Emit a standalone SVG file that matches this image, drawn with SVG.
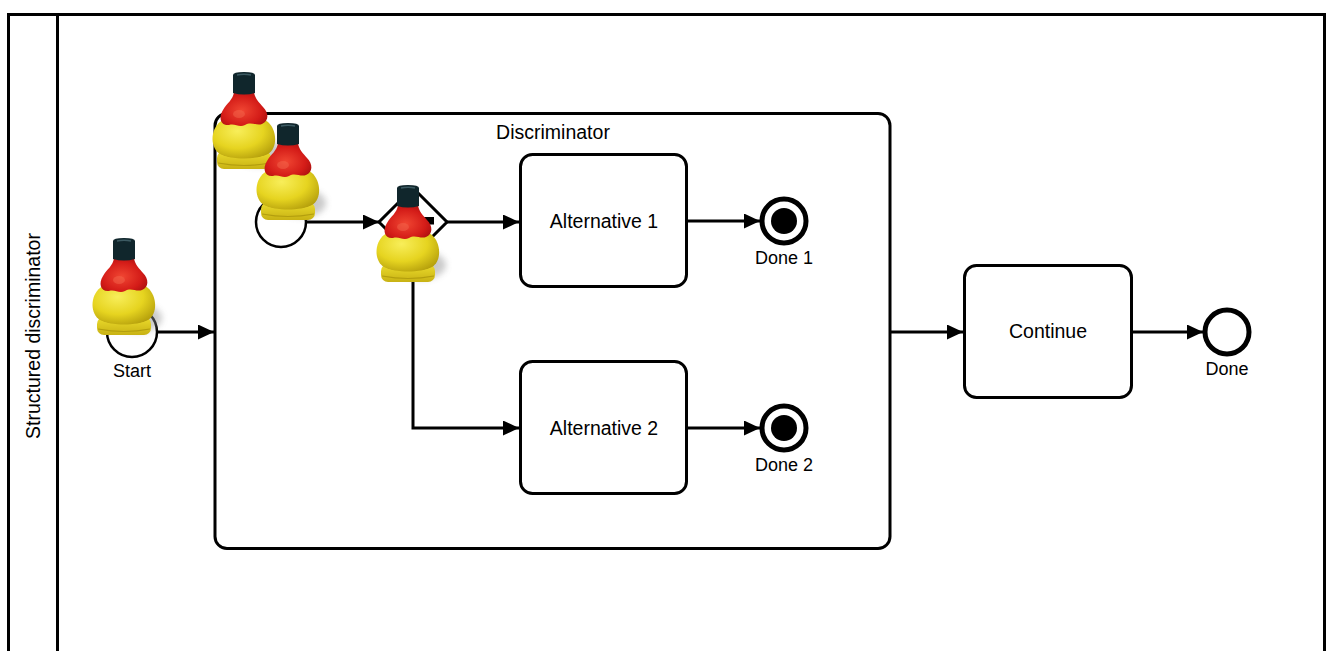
<svg xmlns="http://www.w3.org/2000/svg" xmlns:xlink="http://www.w3.org/1999/xlink" width="1329" height="651" viewBox="0 0 1329 651">
  <style>
    .frame { fill: #ffffff; stroke: #000000; stroke-width: 3; }
    .task { fill: #ffffff; stroke: #000000; stroke-width: 3; }
    .event { fill: #ffffff; stroke: #000000; stroke-width: 2.5; }
    .end { fill: #ffffff; stroke: #000000; stroke-width: 5; }
    .flow { fill: none; stroke: #000000; stroke-width: 3; marker-end: url(#arrow); }
    .lbl { font-family: "Liberation Sans", Arial, sans-serif; font-size: 18px; fill: #000000; text-anchor: middle; }
    .big { font-family: "Liberation Sans", Arial, sans-serif; font-size: 19.5px; fill: #000000; text-anchor: middle; }
  </style>
  <defs>
    <marker id="arrow" markerUnits="userSpaceOnUse" markerWidth="17" markerHeight="15" refX="16" refY="7.5" orient="auto">
      <path d="M0,0 L16,7.5 L0,15 Z" fill="#000000"/>
    </marker>
    <radialGradient id="yellowBody" cx="0.4" cy="0.35" r="0.75">
      <stop offset="0" stop-color="#f8ee5a"/>
      <stop offset="0.55" stop-color="#e6d420"/>
      <stop offset="1" stop-color="#b09a0a"/>
    </radialGradient>
    <linearGradient id="yellowBase" x1="0" y1="0" x2="0" y2="1">
      <stop offset="0" stop-color="#ecdc2c"/>
      <stop offset="1" stop-color="#c8b214"/>
    </linearGradient>
    <radialGradient id="redTop" cx="0.45" cy="0.55" r="0.7">
      <stop offset="0" stop-color="#f04632"/>
      <stop offset="0.6" stop-color="#d41c18"/>
      <stop offset="1" stop-color="#9c0c0c"/>
    </radialGradient>
    <filter id="soft" x="-50%" y="-50%" width="200%" height="200%">
      <feGaussianBlur stdDeviation="3"/>
    </filter>
    <!-- token: a bottle-shaped marker, origin at top centre of the cap -->
    <g id="token">
      <ellipse cx="14" cy="80" rx="24" ry="14" fill="#8a8a8a" opacity="0.45" filter="url(#soft)"/>
      <rect x="-27" y="79" width="54" height="18" rx="7" fill="url(#yellowBase)"/>
      <path d="M-26,91 Q0,96 26,91" fill="none" stroke="#b39e0e" stroke-width="1.2"/>
      <ellipse cx="0" cy="81" rx="23" ry="4.5" fill="#8f6c1c"/>
      <path d="M-24,50 C-34,58 -34,76 -24,82 C-12,88 12,88 24,82 C34,76 33,58 24,50 C14,42 -14,42 -24,50 Z" fill="url(#yellowBody)"/>
      <path d="M-10,20 L10,20 C11,27 15,30 19,35 C25,41 25,49 18,52 C12,54 7,49 1,53 C-5,56 -9,51 -15,53 C-23,54 -26,46 -21,38 C-17,31 -11,28 -10,20 Z" fill="url(#redTop)"/>
      <ellipse cx="-5" cy="42" rx="6" ry="4" fill="#f46a50" opacity="0.45"/>
      <path d="M-11,3 Q-11,0 0,0 Q11,0 11,3 L11,21 Q0,24 -11,21 Z" fill="#10262c"/>
      <path d="M-7,3 Q0,1.5 7,3" fill="none" stroke="#3c5a62" stroke-width="1.5"/>
    </g>
  </defs>

  <rect x="0" y="0" width="1329" height="651" fill="#ffffff"/>

  <!-- pool with its single lane -->
  <g id="pool">
    <rect class="frame" x="8.5" y="14.5" width="1316" height="700"/>
    <line x1="57.5" y1="14" x2="57.5" y2="651" stroke="#000000" stroke-width="3"/>
    <text class="big" transform="translate(40,336) rotate(-90)">Structured discriminator</text>
  </g>

  <!-- structured sub-process -->
  <g id="discriminator">
    <rect class="task" x="215" y="113.5" width="675" height="435" rx="12"/>
    <text class="big" x="553" y="139">Discriminator</text>
  </g>

  <g id="start">
    <circle class="event" cx="132" cy="332" r="25"/>
    <text class="lbl" x="132" y="377">Start</text>
  </g>

  <g id="inner-start">
    <circle class="event" cx="281" cy="222" r="25"/>
  </g>

  <g id="gateway">
    <polygon points="413,188 447,222 413,256 379,222" fill="#ffffff" stroke="#000000" stroke-width="3" stroke-linejoin="miter"/>
    <rect x="399" y="217" width="35" height="7.5" fill="#000000"/>
  </g>

  <g id="alternative-1">
    <rect class="task" x="520.5" y="154.5" width="166" height="132" rx="12"/>
    <text class="big" x="604" y="228">Alternative 1</text>
  </g>

  <g id="alternative-2">
    <rect class="task" x="520.5" y="361.5" width="166" height="132" rx="12"/>
    <text class="big" x="604" y="435">Alternative 2</text>
  </g>

  <g id="done-1">
    <circle class="end" cx="784" cy="221" r="22"/>
    <circle cx="784" cy="221" r="13" fill="#000000"/>
    <text class="lbl" x="784" y="264">Done 1</text>
  </g>

  <g id="done-2">
    <circle class="end" cx="784" cy="428" r="22"/>
    <circle cx="784" cy="428" r="13" fill="#000000"/>
    <text class="lbl" x="784" y="471">Done 2</text>
  </g>

  <g id="continue">
    <rect class="task" x="964.5" y="265.5" width="167" height="132" rx="12"/>
    <text class="big" x="1048" y="338">Continue</text>
  </g>

  <g id="done">
    <circle class="end" cx="1227" cy="332" r="22" stroke-width="4.5"/>
    <text class="lbl" x="1227" y="375">Done</text>
  </g>

  <!-- sequence flows -->
  <g id="connectors">
    <path class="flow" d="M157,332 L214,332"/>
    <path class="flow" d="M306,222 L379,222"/>
    <path class="flow" d="M447,222 L519,222"/>
    <path class="flow" d="M413,256 L413,428 L519,428"/>
    <path class="flow" d="M687,221 L760,221"/>
    <path class="flow" d="M687,428 L760,428"/>
    <path class="flow" d="M890,332 L963,332"/>
    <path class="flow" d="M1131,332 L1203,332"/>
  </g>

  <!-- tokens -->
  <g id="tokens">
    <use xlink:href="#token" href="#token" x="124" y="238"/>
    <use xlink:href="#token" href="#token" x="244" y="72"/>
    <use xlink:href="#token" href="#token" x="288" y="123"/>
    <use xlink:href="#token" href="#token" x="408" y="185"/>
  </g>
</svg>
